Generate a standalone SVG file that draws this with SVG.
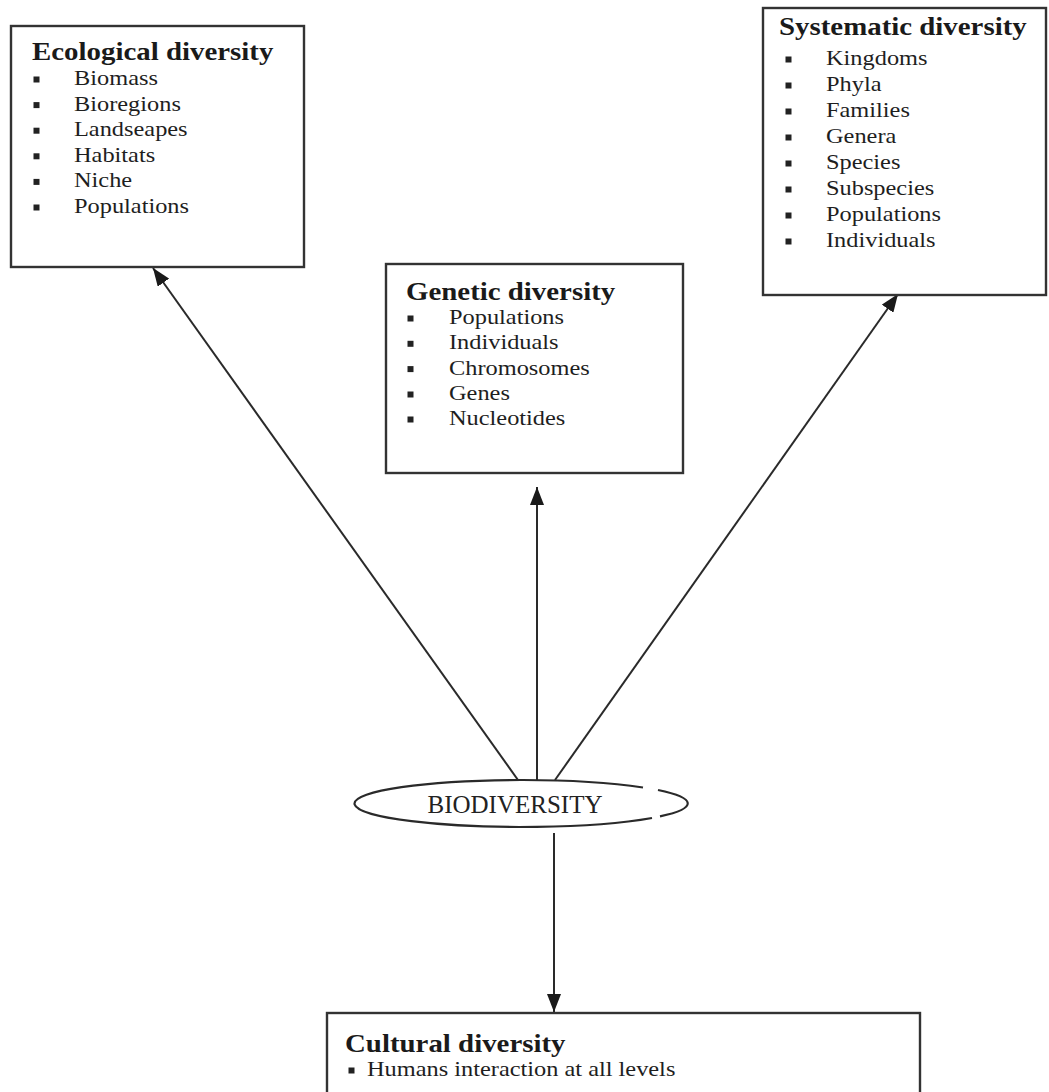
<svg xmlns="http://www.w3.org/2000/svg" width="1049" height="1092" viewBox="0 0 1049 1092">
<style>
.box{fill:#fff;stroke:#333;stroke-width:2.4}
.t{font-family:"Liberation Serif","Times New Roman",serif;font-weight:bold;font-size:25px;fill:#1a1a1a}
.i{font-family:"Liberation Serif","Times New Roman",serif;font-size:21px;fill:#1e1e1e}
.b{fill:#222}
.c{stroke:#2a2a2a;stroke-width:2;fill:none}
.e{stroke:#2a2a2a;stroke-width:2.2;fill:none}
.bio{font-family:"Liberation Serif","Times New Roman",serif;font-size:25px;fill:#222}
</style>
<defs>
<marker id="ah" viewBox="0 0 18 14" refX="18" refY="7" markerWidth="18" markerHeight="14" orient="auto" markerUnits="userSpaceOnUse">
<path d="M0,0 L18,7 L0,14 z" fill="#1a1a1a"/>
</marker>
</defs>
<rect width="1049" height="1092" fill="#fff"/>

<g id="connectors">
<line class="c" x1="518" y1="780" x2="153" y2="268" marker-end="url(#ah)"/>
<line class="c" x1="537" y1="780" x2="537" y2="487" marker-end="url(#ah)"/>
<line class="c" x1="555" y1="780" x2="898" y2="294" marker-end="url(#ah)"/>
<line class="c" x1="554" y1="833" x2="554" y2="1012" marker-end="url(#ah)"/>
</g>

<g id="ecological">
<rect class="box" x="11" y="26" width="293" height="241"/>
<text class="t" transform="matrix(1.155 0 0 1 32 60)">Ecological diversity</text>
<rect class="b" x="33.5" y="76.5" width="6" height="6"/>
<rect class="b" x="33.5" y="102.1" width="6" height="6"/>
<rect class="b" x="33.5" y="127.7" width="6" height="6"/>
<rect class="b" x="33.5" y="153.3" width="6" height="6"/>
<rect class="b" x="33.5" y="178.9" width="6" height="6"/>
<rect class="b" x="33.5" y="204.5" width="6" height="6"/>
<text class="i" transform="matrix(1.16 0 0 1 74 85)">Biomass</text>
<text class="i" transform="matrix(1.16 0 0 1 74 110.6)">Bioregions</text>
<text class="i" transform="matrix(1.16 0 0 1 74 136.2)">Landseapes</text>
<text class="i" transform="matrix(1.16 0 0 1 74 161.8)">Habitats</text>
<text class="i" transform="matrix(1.16 0 0 1 74 187.4)">Niche</text>
<text class="i" transform="matrix(1.16 0 0 1 74 213)">Populations</text>
</g>

<g id="genetic">
<rect class="box" x="386" y="264" width="297" height="209"/>
<text class="t" transform="matrix(1.155 0 0 1 406 300)">Genetic diversity</text>
<rect class="b" x="407.5" y="315.5" width="6" height="6"/>
<rect class="b" x="407.5" y="340.8" width="6" height="6"/>
<rect class="b" x="407.5" y="366.1" width="6" height="6"/>
<rect class="b" x="407.5" y="391.5" width="6" height="6"/>
<rect class="b" x="407.5" y="416.5" width="6" height="6"/>
<text class="i" transform="matrix(1.16 0 0 1 449 324)">Populations</text>
<text class="i" transform="matrix(1.16 0 0 1 449 349.3)">Individuals</text>
<text class="i" transform="matrix(1.16 0 0 1 449 374.6)">Chromosomes</text>
<text class="i" transform="matrix(1.16 0 0 1 449 400)">Genes</text>
<text class="i" transform="matrix(1.16 0 0 1 449 425)">Nucleotides</text>
</g>

<g id="systematic">
<rect class="box" x="763" y="8" width="283" height="287"/>
<text class="t" transform="matrix(1.155 0 0 1 779 35)">Systematic diversity</text>
<rect class="b" x="785.5" y="56.5" width="6" height="6"/>
<rect class="b" x="785.5" y="82.5" width="6" height="6"/>
<rect class="b" x="785.5" y="108.5" width="6" height="6"/>
<rect class="b" x="785.5" y="134.5" width="6" height="6"/>
<rect class="b" x="785.5" y="160.5" width="6" height="6"/>
<rect class="b" x="785.5" y="186.5" width="6" height="6"/>
<rect class="b" x="785.5" y="212.5" width="6" height="6"/>
<rect class="b" x="785.5" y="238.5" width="6" height="6"/>
<text class="i" transform="matrix(1.16 0 0 1 826 65)">Kingdoms</text>
<text class="i" transform="matrix(1.16 0 0 1 826 91)">Phyla</text>
<text class="i" transform="matrix(1.16 0 0 1 826 117)">Families</text>
<text class="i" transform="matrix(1.16 0 0 1 826 143)">Genera</text>
<text class="i" transform="matrix(1.16 0 0 1 826 169)">Species</text>
<text class="i" transform="matrix(1.16 0 0 1 826 195)">Subspecies</text>
<text class="i" transform="matrix(1.16 0 0 1 826 221)">Populations</text>
<text class="i" transform="matrix(1.16 0 0 1 826 247)">Individuals</text>
</g>

<g id="biodiversity">
<path class="e" d="M643,787.5 A166.5,23.5 0 1 0 652,818"/>
<path class="e" d="M658,790 A166.5,23.5 0 0 1 660,816.4"/>
<text class="bio" x="515" y="813" text-anchor="middle">BIODIVERSITY</text>
</g>

<g id="cultural">
<rect class="box" x="327" y="1013" width="593" height="100"/>
<text class="t" transform="matrix(1.155 0 0 1 345 1052)">Cultural diversity</text>
<rect class="b" x="348.5" y="1067.5" width="6" height="6"/>
<text class="i" transform="matrix(1.16 0 0 1 367 1076)">Humans interaction at all levels</text>
</g>
</svg>
